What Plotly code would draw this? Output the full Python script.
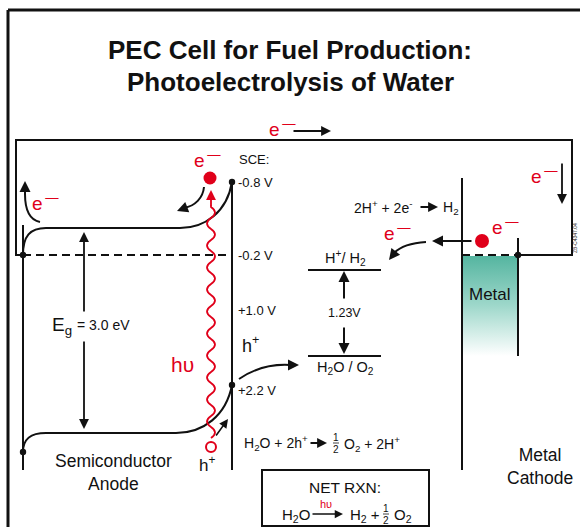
import plotly.graph_objects as go

# ---- content (text labels and potentials) ----
title_lines = ["PEC Cell for Fuel Production:", "Photoelectrolysis of Water"]
sce_levels = ["-0.8 V", "-0.2 V", "+1.0 V", "+2.2 V"]
band_gap_label = "3.0 eV"
redox_gap = "1.23V"
redox_couples = ["H<sup>+</sup>/ H<sub>2</sub>", "H<sub>2</sub>O / O<sub>2</sub>"]
electrode_labels = ["Semiconductor<br>Anode", "Metal<br>Cathode", "Metal"]

W, H = 580, 527
FONT = "Liberation Sans, Arial, Helvetica, sans-serif"
RED = "#e0001a"
BLK = "#111111"
TEAL = "#55b5a0"

shapes = []
ann = []


def line(x0, y0, x1, y1, color=BLK, width=2, dash="solid"):
    shapes.append(dict(type="line", x0=x0, y0=y0, x1=x1, y1=y1, xref="x", yref="y",
                       line=dict(color=color, width=width, dash=dash)))


def path(d, color=BLK, width=2):
    shapes.append(dict(type="path", path=d, xref="x", yref="y",
                       line=dict(color=color, width=width)))


def dot(x, y, r, color=BLK, fill=True, width=2):
    shapes.append(dict(type="circle", x0=x - r, x1=x + r, y0=y - r, y1=y + r, xref="x", yref="y",
                       fillcolor=color if fill else "rgba(0,0,0,0)",
                       line=dict(color=color, width=0 if fill else width)))


def arrow(tx, ty, hx, hy, color=BLK, width=1.8, size=1.1, head=2):
    ann.append(dict(x=hx, y=hy, ax=tx, ay=ty, xref="x", yref="y", axref="x", ayref="y",
                    text="", showarrow=True, arrowhead=head, arrowsize=size, arrowwidth=width,
                    arrowcolor=color, standoff=0, startstandoff=0))


def text(x, y, s, size=13, color=BLK, xa="center", ya="middle", bold=False, angle=0):
    ann.append(dict(x=x, y=y, xref="x", yref="y", text=f"<b>{s}</b>" if bold else s,
                    showarrow=False, xanchor=xa, yanchor=ya, textangle=angle,
                    font=dict(family=FONT, size=size, color=color)))


def eminus(x, y, size=19):
    text(x, y, "e<sup>\u2009\u2014</sup>", size=size, color=RED)


def half(x, y, size=9, color=BLK):
    text(x, y - 6, "1", size=size, color=color)
    text(x, y + 6, "2", size=size, color=color)
    line(x - 3, y, x + 3, y, color=color, width=0.8)


# ---- frame ----
line(8, 10, W, 10, width=3)
line(8, 10, 8, H, width=3)

# ---- title ----
text(290, 50, title_lines[0], size=26, bold=True)
text(290, 82, title_lines[1], size=26, bold=True)

# ---- external circuit ----
path("M 23,255 L 16,255 L 16,140 L 572,140 L 572,255 L 518,255")
eminus(282, 128)
arrow(292, 131, 331, 131)
eminus(544, 175)
arrow(562, 162, 562, 204)

# ---- semiconductor ----
line(23, 225, 23, 470)
line(232, 182, 232, 470)
line(23, 255, 232, 255, dash="8px,5px")
path("M 23,255 C 23,236 30,228 46,228 L 180,228 C 205,228 227,212 232,182")
path("M 23,452 C 23,439 30,433 46,433 L 176,433 C 203,433 226,416 232,385")
dot(23, 255, 3.2)
dot(23, 452, 3.2)
dot(232, 182, 3.2)
dot(232, 385, 3.2)

# band-gap arrows and label
arrow(84, 313, 84, 232)
arrow(84, 340, 84, 429)
text(50, 326, "E<sub>g</sub>", size=19, xa="left")
text(75, 325, "= " + band_gap_label, size=14, xa="left")

# SCE potential labels
text(237, 159, "SCE:", size=13, xa="left")
text(236, 182, sce_levels[0], size=13, xa="left")
text(236, 255, sce_levels[1], size=13, xa="left")
text(236, 310, sce_levels[2], size=13, xa="left")
text(236, 390, sce_levels[3], size=13, xa="left")
text(240, 344, "h<sup>+</sup>", size=18, xa="left")

# photon (wavy line) and carriers
wave = "M 211,438"
yy = 438.0
k = 0
while yy - 11 > 200:
    cx = 211 + (8 if k % 2 == 0 else -8)
    wave += f" Q {cx},{yy - 5.5} 211,{yy - 11}"
    yy -= 11
    k += 1
wave += f" L 211,{yy - 2}"
path(wave, color=RED, width=1.8)
arrow(211, yy, 211, 190, color=RED, width=1.8)
text(182, 364, "h\u03c5", size=21, color=RED)
dot(210, 178, 6.5, color=RED)
eminus(207, 159)
dot(211, 447, 5, color=RED, fill=False, width=2)
text(207, 464, "h<sup>+</sup>", size=17)
arrow(215, 437, 228, 419, width=1.6)

# electron relaxation arrow (from excited electron down into CB)
path("M 204,187 C 203,198 195,206 184,208", width=2)
arrow(186, 207.5, 177, 211, width=2)

# electron leaving to circuit
path("M 40,222 C 30,220 25,210 25,194", width=2)
arrow(25, 196, 25, 181, width=2)
eminus(45, 202)

# hole transfer to solution
path("M 239,379 C 255,368 272,364 290,365", width=2)
arrow(288, 365, 299, 365, width=2)

# ---- redox levels ----
text(345, 258, redox_couples[0], size=14.5)
line(308, 270, 381, 270, width=2)
line(308, 356, 381, 356, width=2)
text(345, 368, redox_couples[1], size=14.5)
arrow(344, 300, 344, 271, width=2)
arrow(344, 326, 344, 354, width=2)
text(344, 313, redox_gap, size=12.5)

# cathode reaction
text(414, 207, "2H<sup>+</sup> + 2e<sup>-</sup>", size=14, xa="right")
arrow(419, 207, 438, 207, width=1.8)
text(441, 208, "H<sub>2</sub>", size=14, xa="left")

# ---- metal cathode ----
fig = go.Figure()
fig.add_trace(go.Scatter(x=[462, 518, 518, 462, 462], y=[256, 256, 356, 356, 256],
                         mode="lines", line=dict(width=0), fill="toself",
                         fillgradient=dict(type="vertical", start=256, stop=356,
                                           colorscale=[[0, TEAL], [0.5, "#9fd8cb"], [1, "#ffffff"]]),
                         hoverinfo="skip", showlegend=False))
line(462, 178, 462, 470)
line(518, 238, 518, 356)
line(462, 255, 518, 255, dash="8px,5px")
dot(518, 255, 3.2)
text(490, 294, electrode_labels[2], size=17)
dot(482, 241, 7, color=RED)
eminus(505, 226)
arrow(473, 241, 432, 241, width=2)
eminus(397, 232)
path("M 426,242 C 410,243 399,248 394,253", width=2)
arrow(396, 251, 389, 260, width=2)

# ---- bottom labels ----
text(113, 472, electrode_labels[0], size=17.5)
text(540, 466, electrode_labels[1], size=17.5)
text(575, 238, "ZB-C4347.04", size=5, angle=-90)

# anode half reaction
text(242, 443, "H<sub>2</sub>O + 2h<sup>+</sup>", size=14, xa="left")
arrow(309, 443, 327, 443, width=1.8)
half(336, 443, size=10)
text(342, 444, "O<sub>2</sub> + 2H<sup>+</sup>", size=14, xa="left")

# net reaction box
shapes.append(dict(type="rect", x0=262, y0=470, x1=429, y1=526, xref="x", yref="y",
                   line=dict(color=BLK, width=2)))
text(345, 487, "NET RXN:", size=15.5)
text(280, 515, "H<sub>2</sub>O", size=15, xa="left")
arrow(311, 514, 343, 514, width=1.5)
text(326, 504, "h\u03c5", size=11, color=RED)
text(348, 515, "H<sub>2</sub> +", size=15, xa="left")
half(386, 514, size=10)
text(392, 515, "O<sub>2</sub>", size=15, xa="left")

fig.update_layout(
    width=W, height=H, autosize=False,
    margin=dict(l=0, r=0, t=0, b=0),
    paper_bgcolor="white", plot_bgcolor="white",
    xaxis=dict(range=[0, W], visible=False, fixedrange=True),
    yaxis=dict(range=[H, 0], visible=False, fixedrange=True),
    shapes=shapes, annotations=ann, showlegend=False,
)
fig.write_html("out.html", config={"displayModeBar": False},
               post_script="document.body.style.margin='0';document.body.style.overflow='hidden';")
